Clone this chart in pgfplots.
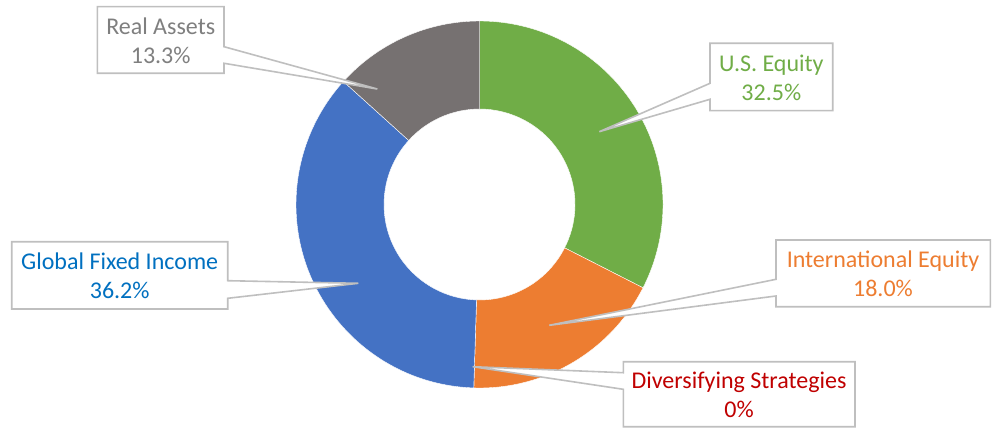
\documentclass[border=0pt]{standalone}
\usepackage{fontspec}
\setmainfont{Carlito}
\usepackage{pgfplots}
\pgfplotsset{compat=1.18}
\definecolor{usgreen}{HTML}{70AD47}
\definecolor{intorange}{HTML}{ED7D31}
\definecolor{divred}{HTML}{C00000}
\definecolor{gfiblue}{HTML}{4472C4}
\definecolor{gfitext}{HTML}{0070C0}
\definecolor{ragrey}{HTML}{767171}
\definecolor{ratext}{HTML}{7F7F7F}
\definecolor{callgrey}{HTML}{BFBFBF}
% slice: #1 cumulative share before (percent), #2 share (percent), #3 colour
\newcommand{\slice}[3]{%
  \fill[#3, draw=white, line width=0.4bp]
    ([shift={({90-3.6*(#1)}:183.5bp)}]axis cs:479.5,204.5)
    arc[start angle={90-3.6*(#1)}, end angle={90-3.6*(#1+#2)}, radius=183.5bp]
    -- ([shift={({90-3.6*(#1+#2)}:95.5bp)}]axis cs:479.5,204.5)
    arc[start angle={90-3.6*(#1+#2)}, end angle={90-3.6*(#1)}, radius=95.5bp]
    -- cycle;}
\tikzset{callout/.style={draw=callgrey, line width=1.6bp, fill=white, line join=miter},
  lbl/.style={align=center, font=\fontsize{24bp}{29bp}\selectfont, inner sep=0pt}}
\begin{document}
\begin{tikzpicture}
\begin{axis}[width=993bp, height=429bp, scale only axis,
  xmin=0, xmax=993, ymin=0, ymax=429, y dir=reverse,
  hide axis, clip=false]
\addplot[draw=none, forget plot] coordinates {(0,0) (993,429)};
% shares in percent: U.S. Equity 32.5, International Equity 18.0,
% Diversifying Strategies 0, Global Fixed Income 36.2, Real Assets 13.3
\slice{0}{32.5}{usgreen}
\slice{32.5}{18.0}{intorange}
\slice{50.5}{0}{divred}
\slice{50.5}{36.2}{gfiblue}
\slice{86.7}{13.3}{ragrey}
% callouts
\draw[callout] (axis cs:97.3,6.7) -- (axis cs:224,6.7) -- (axis cs:224,46.7)
  -- (axis cs:377.3,89) -- (axis cs:224,63.3) -- (axis cs:224,73.3)
  -- (axis cs:97.3,73.3) -- cycle;
\draw[callout] (axis cs:710,43.3) -- (axis cs:832.7,43.3) -- (axis cs:832.7,110.7)
  -- (axis cs:710,110.7) -- (axis cs:710,99.3) -- (axis cs:599.3,131.7)
  -- (axis cs:710,83.3) -- cycle;
\draw[callout] (axis cs:776,240) -- (axis cs:990.3,240) -- (axis cs:990.3,306.7)
  -- (axis cs:776,306.7) -- (axis cs:776,296) -- (axis cs:549.3,325.3)
  -- (axis cs:776,279.3) -- cycle;
\draw[callout] (axis cs:623.3,361.7) -- (axis cs:855,361.7) -- (axis cs:855,426.7)
  -- (axis cs:623.3,426.7) -- (axis cs:623.3,389.3) -- (axis cs:472.7,366.7)
  -- (axis cs:623.3,372.7) -- cycle;
\draw[callout] (axis cs:11.7,241.7) -- (axis cs:227.7,241.7) -- (axis cs:227.7,280.7)
  -- (axis cs:358.3,283.3) -- (axis cs:227.7,298.3) -- (axis cs:227.7,309)
  -- (axis cs:11.7,309) -- cycle;
% labels
\node[lbl, text=ratext] at (axis cs:160.7,40.5) {Real Assets\\13.3\%};
\node[lbl, text=usgreen] at (axis cs:771.3,77.5) {U.S. Equity\\32.5\%};
\node[lbl, text=intorange] at (axis cs:883,273.8) {International Equity\\18.0\%};
\node[lbl, text=divred] at (axis cs:739,395) {Diversifying Strategies\\0\%};
\node[lbl, text=gfitext] at (axis cs:119.7,275.8) {Global Fixed Income\\36.2\%};
\end{axis}
\end{tikzpicture}
\end{document}
